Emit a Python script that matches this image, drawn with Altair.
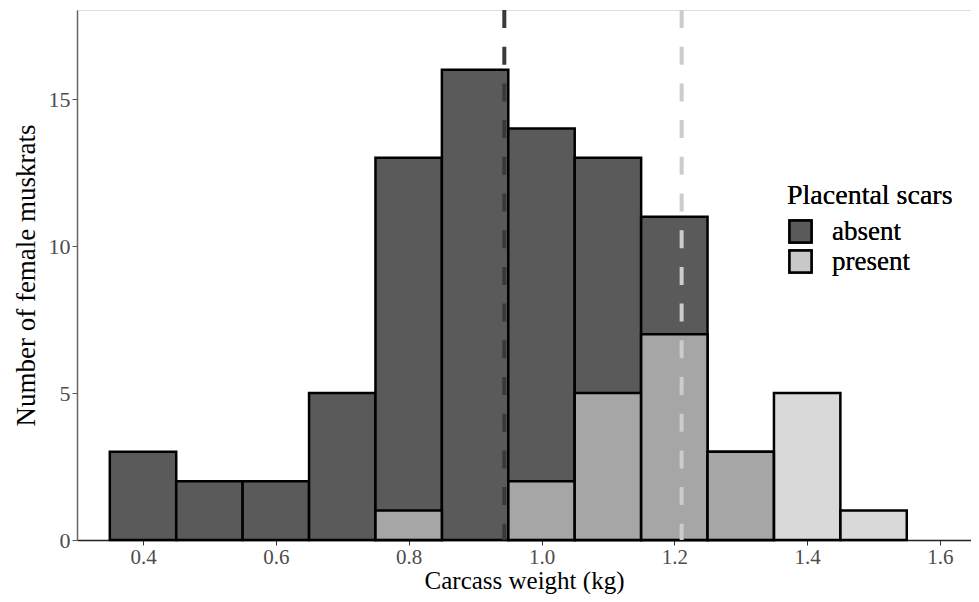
import altair as alt
import pandas as pd

# Histogram bins (kg), width 0.1
bin_start = [0.35, 0.45, 0.55, 0.65, 0.75, 0.85, 0.95, 1.05, 1.15, 1.25, 1.35, 1.45]
bin_end = [0.45, 0.55, 0.65, 0.75, 0.85, 0.95, 1.05, 1.15, 1.25, 1.35, 1.45, 1.55]
absent_counts = [3, 2, 2, 5, 13, 16, 14, 13, 11, 3, 0, 0]
present_counts = [0, 0, 0, 0, 1, 0, 2, 5, 7, 3, 5, 1]
groups = ["absent", "present"]
group_means = [0.944, 1.211]

rows = []
for s, e, a, p in zip(bin_start, bin_end, absent_counts, present_counts):
    if a > 0:
        rows.append({"start": s, "end": e, "count": a, "scars": "absent"})
    if p > 0:
        rows.append({"start": s, "end": e, "count": p, "scars": "present"})
df = pd.DataFrame(rows)
means = pd.DataFrame({"scars": groups, "mean": group_means})

FONT = "Liberation Serif"
xscale = alt.Scale(domain=[0.3006, 1.6467], nice=False, zero=False)
yscale = alt.Scale(domain=[0, 18.03], nice=False)
color = alt.Color(
    "scars:N",
    scale=alt.Scale(domain=groups, range=["#5a5a5a", "#c8c8c8"]),
    legend=alt.Legend(
        title="Placental scars",
        orient="none",
        legendX=710,
        legendY=172,
        titleFont=FONT,
        titleFontSize=28,
        titleFontWeight="normal",
        titleColor="#000000",
        titlePadding=8,
        labelFont=FONT,
        labelFontSize=27,
        labelColor="#000000",
        labelOffset=18,
        symbolType="square",
        symbolSize=484,
        symbolStrokeColor="#000000",
        symbolStrokeWidth=2.5,
        symbolOpacity=1,
        rowPadding=-15,
    ),
)

xaxis = alt.Axis(
    values=[0.4, 0.6, 0.8, 1.0, 1.2, 1.4, 1.6],
    format=".1f",
    grid=False,
    title="Carcass weight (kg)",
    labelFont=FONT,
    labelFontSize=21,
    labelColor="#4d4d4d",
    labelPadding=1,
    tickSize=5,
    tickColor="#333333",
    domainColor="#222222",
    domainWidth=1.5,
    titleFont=FONT,
    titleFontSize=25,
    titleFontWeight="normal",
    titleColor="#000000",
    titleBaseline="alphabetic",
    titleY=48,
)
yaxis = alt.Axis(
    values=[0, 5, 10, 15],
    grid=False,
    title="Number of female muskrats",
    labelFont=FONT,
    labelFontSize=22,
    labelColor="#4d4d4d",
    labelPadding=2,
    tickSize=5,
    tickColor="#555555",
    domainColor="#666666",
    domainWidth=1.5,
    titleFont=FONT,
    titleFontSize=27,
    titleFontWeight="normal",
    titleColor="#000000",
    titlePadding=8,
)

base = alt.Chart(df)
absent = base.transform_filter(alt.datum.scars == "absent").mark_rect(
    stroke="#000000", strokeWidth=2.5, fillOpacity=1
).encode(
    x=alt.X("start:Q", scale=xscale, axis=xaxis),
    x2="end:Q",
    y=alt.Y("count:Q", scale=yscale, axis=yaxis),
    y2=alt.datum(0),
    color=color,
)
present = base.transform_filter(alt.datum.scars == "present").mark_rect(
    stroke="#000000", strokeWidth=2.5, fillOpacity=0.69, strokeOpacity=1
).encode(
    x=alt.X("start:Q", scale=xscale),
    x2="end:Q",
    y=alt.Y("count:Q", scale=yscale),
    y2=alt.datum(0),
    color=color,
)
vlines = alt.Chart(means).mark_rule(strokeWidth=4, strokeDash=[18, 18.7]).encode(
    x=alt.X("mean:Q", scale=xscale),
    color=alt.Color("scars:N", scale=alt.Scale(domain=groups, range=["#3a3a3a", "#cccccc"]), legend=None),
)

chart = (
    alt.layer(absent, present, vlines)
    .resolve_scale(color="independent")
    .properties(
        width=894,
        height=530,
        padding={"left": 69, "top": 2, "right": 0, "bottom": 54},
        autosize=alt.AutoSizeParams(type="none"),
    )
    .configure_view(stroke=None)
    .configure(background="#ffffff")
)

chart.save("out.html", embed_options={"renderer": "svg", "actions": False})
